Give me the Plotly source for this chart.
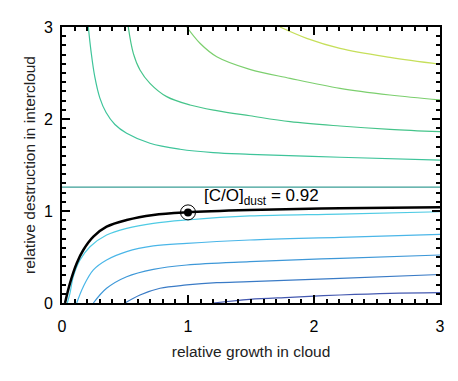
import plotly.graph_objects as go

# contour lines: (growth in cloud, destruction in intercloud)
upper_colors = ["#3ec49a", "#45c48a", "#7ccf6e", "#c6df5a"]
upper_x = [
    [0.209, 0.23, 0.26, 0.3, 0.35, 0.42, 0.513, 0.698, 0.937, 1.2, 1.49, 2.206, 3.0],
    [0.526, 0.566, 0.619, 0.698, 0.831, 1.016, 1.228, 1.492, 1.81, 2.206, 2.603, 3.0],
    [0.99, 1.095, 1.228, 1.49, 1.81, 2.206, 2.603, 3.0],
    [1.73, 1.942, 2.206, 2.603, 3.0],
]
upper_y = [
    [3.0, 2.74, 2.46, 2.23, 2.07, 1.94, 1.845, 1.736, 1.671, 1.634, 1.616, 1.584, 1.554],
    [3.0, 2.714, 2.533, 2.388, 2.243, 2.152, 2.091, 2.035, 1.971, 1.924, 1.888, 1.862],
    [3.0, 2.823, 2.677, 2.54, 2.442, 2.333, 2.261, 2.207],
    [3.0, 2.877, 2.768, 2.67, 2.595],
]

asymptote_y = 1.26

lower_colors = ["#4fcbe4", "#4ab6e8", "#3e98d8", "#3a7bc6", "#4459b0"]
lower_x = [
    [0.042, 0.063, 0.09, 0.143, 0.222, 0.354, 0.513, 0.725, 0.99, 1.49, 2.206, 3.0],
    [0.117, 0.169, 0.249, 0.354, 0.513, 0.725, 0.99, 1.49, 2.206, 3.0],
    [0.249, 0.354, 0.513, 0.725, 0.99, 1.49, 2.206, 3.0],
    [0.5, 0.619, 0.778, 0.99, 1.228, 1.49, 2.206, 3.0],
    [1.2, 1.49, 1.81, 2.206, 2.603, 3.0],
]
lower_y = [
    [0.0, 0.105, 0.286, 0.467, 0.612, 0.739, 0.812, 0.866, 0.902, 0.946, 0.967, 0.992],
    [0.0, 0.177, 0.359, 0.467, 0.558, 0.62, 0.649, 0.685, 0.714, 0.746],
    [0.0, 0.16, 0.286, 0.366, 0.413, 0.449, 0.486, 0.522],
    [0.0, 0.087, 0.16, 0.196, 0.221, 0.232, 0.268, 0.31],
    [0.0, 0.04, 0.062, 0.087, 0.105, 0.112],
]

dust_x = [0.024, 0.063, 0.117, 0.169, 0.249, 0.354, 0.513, 0.725, 0.99, 1.49, 2.206, 3.0]
dust_y = [0.0, 0.214, 0.432, 0.576, 0.721, 0.829, 0.902, 0.957, 0.986, 1.011, 1.03, 1.042]

point_x = [1.0]
point_y = [0.985]
label = "[C/O]<sub>dust</sub> = 0.92"

fig = go.Figure()

for xs, ys, c in zip(upper_x, upper_y, upper_colors):
    fig.add_trace(go.Scatter(x=xs, y=ys, mode="lines",
                             line=dict(color=c, width=1.2, shape="spline")))

fig.add_trace(go.Scatter(x=[0, 3], y=[asymptote_y, asymptote_y], mode="lines",
                         line=dict(color="#3a9e96", width=1.2)))

for xs, ys, c in zip(lower_x, lower_y, lower_colors):
    fig.add_trace(go.Scatter(x=xs, y=ys, mode="lines",
                             line=dict(color=c, width=1.2, shape="spline")))

fig.add_trace(go.Scatter(x=dust_x, y=dust_y, mode="lines",
                         line=dict(color="black", width=2.5, shape="spline")))

# ring + dot at the marked point
fig.add_trace(go.Scatter(x=point_x, y=point_y, mode="markers",
                         marker=dict(size=15, color="rgba(0,0,0,0)",
                                     line=dict(color="black", width=1))))
fig.add_trace(go.Scatter(x=point_x, y=point_y, mode="markers",
                         marker=dict(size=8, color="black")))

fig.add_annotation(x=1.11, y=1.15, text=label, showarrow=False,
                   xanchor="left", yanchor="middle",
                   font=dict(size=17, color="black"))

axis_common = dict(
    range=[0, 3],
    tickvals=[0, 1, 2, 3],
    ticks="inside",
    ticklen=8,
    tickwidth=2,
    tickcolor="black",
    minor=dict(dtick=0.1, ticks="inside", ticklen=4, tickwidth=1.5, tickcolor="black"),
    showline=True,
    linecolor="black",
    linewidth=2,
    mirror="ticks",
    showgrid=False,
    zeroline=False,
    tickfont=dict(size=16, color="black"),
)

fig.update_layout(
    width=450,
    height=373,
    margin=dict(l=54, r=18, t=19, b=78),
    paper_bgcolor="white",
    plot_bgcolor="white",
    showlegend=False,
    font=dict(family="Liberation Sans, Arial, sans-serif", color="#222"),
    xaxis=dict(axis_common, ticklabelstandoff=8,
               title=dict(text="relative growth in cloud", font=dict(size=15.5), standoff=12)),
    yaxis=dict(axis_common, ticklabelstandoff=4,
               title=dict(text="relative destruction in intercloud", font=dict(size=15.5), standoff=4)),
)

fig.write_html("out.html")
